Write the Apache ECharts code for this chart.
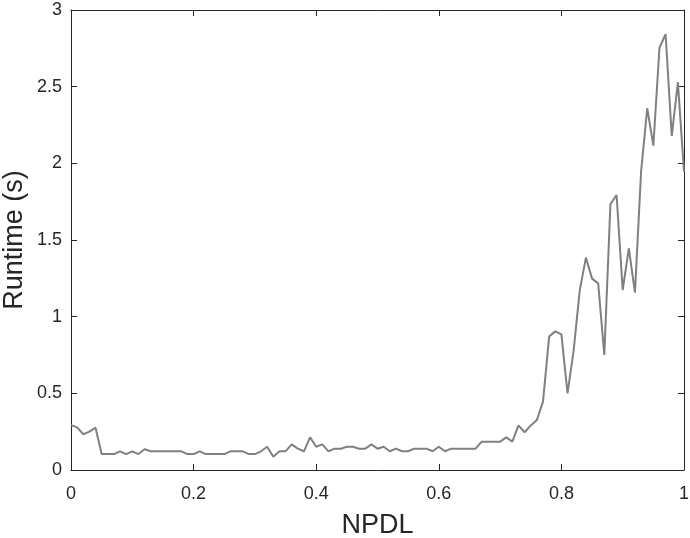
<!DOCTYPE html>
<html>
<head>
<meta charset="utf-8">
<script src="https://cdn.jsdelivr.net/npm/echarts@6/dist/echarts.min.js"></script>
<style>
html,body{margin:0;padding:0;background:#fff;}
#chart{width:690px;height:538px;}
</style>
</head>
<body>
<div id="chart"></div>
<script>
const npdl = [
  0.00,0.01,0.02,0.03,0.04,0.05,0.06,0.07,0.08,0.09,
  0.10,0.11,0.12,0.13,0.14,0.15,0.16,0.17,0.18,0.19,
  0.20,0.21,0.22,0.23,0.24,0.25,0.26,0.27,0.28,0.29,
  0.30,0.31,0.32,0.33,0.34,0.35,0.36,0.37,0.38,0.39,
  0.40,0.41,0.42,0.43,0.44,0.45,0.46,0.47,0.48,0.49,
  0.50,0.51,0.52,0.53,0.54,0.55,0.56,0.57,0.58,0.59,
  0.60,0.61,0.62,0.63,0.64,0.65,0.66,0.67,0.68,0.69,
  0.70,0.71,0.72,0.73,0.74,0.75,0.76,0.77,0.78,0.79,
  0.80,0.81,0.82,0.83,0.84,0.85,0.86,0.87,0.88,0.89,
  0.90,0.91,0.92,0.93,0.94,0.95,0.96,0.97,0.98,0.99,
  1.00
];
const runtime = [
  0.293,0.278,0.233,0.250,0.276,0.104,0.104,0.104,0.122,0.104,
  0.122,0.104,0.135,0.122,0.122,0.122,0.122,0.122,0.122,0.104,
  0.104,0.122,0.104,0.104,0.104,0.104,0.122,0.122,0.122,0.104,
  0.104,0.122,0.152,0.087,0.122,0.122,0.167,0.139,0.122,0.213,
  0.152,0.167,0.122,0.139,0.139,0.152,0.152,0.139,0.139,0.167,
  0.139,0.152,0.122,0.139,0.122,0.122,0.139,0.139,0.139,0.122,
  0.152,0.122,0.139,0.139,0.139,0.139,0.139,0.185,0.185,0.185,
  0.185,0.213,0.185,0.291,0.246,0.291,0.326,0.446,0.870,0.904,
  0.885,0.500,0.780,1.174,1.385,1.248,1.217,0.750,1.735,1.793,
  1.174,1.446,1.157,1.946,2.359,2.115,2.754,2.843,2.178,2.528,
  1.946
];
const xTicks = [0, 0.2, 0.4, 0.6, 0.8, 1];
const yTicks = [0, 0.5, 1, 1.5, 2, 2.5, 3];
const xName = 'NPDL';
const yName = 'Runtime (s)';

const font = 'Liberation Sans, Arial, sans-serif';
const axisColor = '#262626';
const fmt = v => String(+v.toFixed(2));

const chart = echarts.init(document.getElementById('chart'), null, {renderer: 'canvas'});
const common = {
  axisLine: {show: true, onZero: false, lineStyle: {color: axisColor, width: 1}},
  axisTick: {show: true, inside: true, length: 6, lineStyle: {color: axisColor, width: 1}},
  splitLine: {show: false}
};
chart.setOption({
  animation: false,
  backgroundColor: '#ffffff',
  grid: {left: 71, right: 6, top: 10, bottom: 68, containLabel: false, outerBoundsMode: 'none'},
  xAxis: [
    Object.assign({
      type: 'value', position: 'bottom',
      min: xTicks[0], max: xTicks[xTicks.length - 1], interval: 0.2,
      name: xName, nameLocation: 'middle', nameGap: 42, nameMoveOverlap: false,
      nameTextStyle: {fontFamily: font, fontSize: 27, color: axisColor},
      axisLabel: {show: true, margin: 15, fontFamily: font, fontSize: 18, color: axisColor, formatter: fmt}
    }, common),
    Object.assign({
      type: 'value', position: 'top',
      min: xTicks[0], max: xTicks[xTicks.length - 1], interval: 0.2,
      axisLabel: {show: false}
    }, common)
  ],
  yAxis: [
    Object.assign({
      type: 'value', position: 'left',
      min: yTicks[0], max: yTicks[yTicks.length - 1], interval: 0.5,
      name: yName, nameLocation: 'middle', nameGap: 43, nameMoveOverlap: false,
      nameTextStyle: {fontFamily: font, fontSize: 27, color: axisColor},
      axisLabel: {show: true, margin: 9, fontFamily: font, fontSize: 18, color: axisColor, formatter: fmt}
    }, common),
    Object.assign({
      type: 'value', position: 'right',
      min: yTicks[0], max: yTicks[yTicks.length - 1], interval: 0.5,
      axisLabel: {show: false}
    }, common)
  ],
  series: [{
    type: 'line',
    xAxisIndex: 0, yAxisIndex: 0,
    data: npdl.map((x, i) => [x, runtime[i]]),
    showSymbol: false, symbol: 'none',
    lineStyle: {color: '#808080', width: 2},
    itemStyle: {color: '#808080'}
  }]
});
</script>
</body>
</html>
